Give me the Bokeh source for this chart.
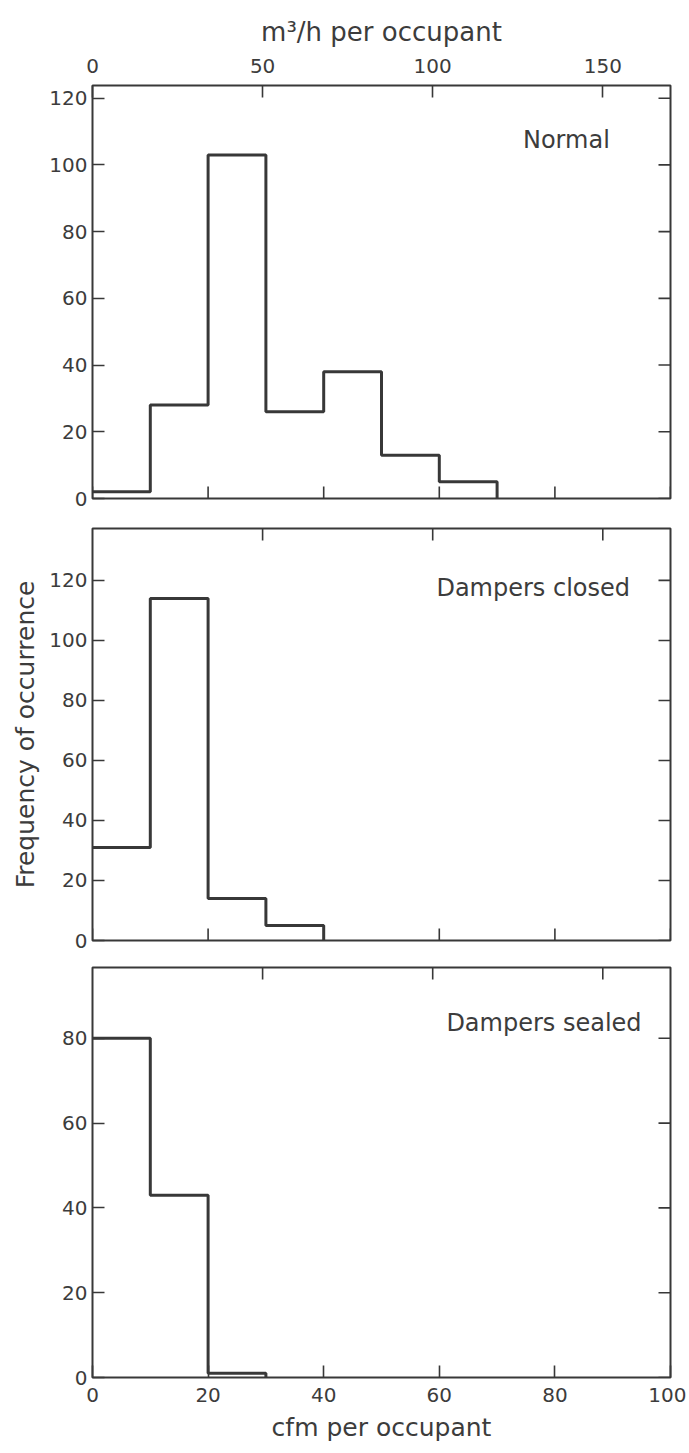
from bokeh.plotting import figure
from bokeh.models import Range1d, LinearAxis, FixedTicker, Label
from bokeh.layouts import column
from bokeh.embed import file_html
from bokeh.resources import INLINE

# ---------------- data ----------------
bin_edges_cfm = [0, 10, 20, 30, 40, 50, 60, 70, 80, 90, 100]
normal_counts = [2, 28, 103, 26, 38, 13, 5]
closed_counts = [31, 114, 14, 5]
sealed_counts = [80, 43, 1]

cfm_ticks = [0, 20, 40, 60, 80, 100]
m3h_ticks_labeled = [0, 50, 100, 150]
m3h_ticks_unlabeled = [50, 100, 150]
freq_ticks_120 = [0, 20, 40, 60, 80, 100, 120]
freq_ticks_80 = [0, 20, 40, 60, 80]

CFM_TO_M3H = 1.699

panel_titles = ["Normal", "Dampers closed", "Dampers sealed"]
x_title_bottom = "cfm per occupant"
x_title_top = "m\u00b3/h per occupant"
y_title = "Frequency of occurrence"

# ---------------- style ----------------
FONT = "DejaVu Sans"
LINE = "#383838"
TEXT = "#3c3c3c"
W = 686
TICK = 12


def style_axis(ax):
    ax.axis_line_color = None
    ax.major_tick_in = TICK
    ax.major_tick_out = 0
    ax.major_tick_line_color = LINE
    ax.major_tick_line_width = 1.6
    ax.minor_tick_line_color = None
    ax.major_label_text_font = FONT
    ax.major_label_text_color = TEXT
    ax.major_label_text_font_size = "20px"
    ax.axis_label_text_font = FONT
    ax.axis_label_text_color = TEXT
    ax.axis_label_text_font_style = "normal"
    ax.axis_label_text_font_size = "25px"


def tick_marks(p, xs, ys, angle, range_name=None):
    kw = {}
    if range_name:
        kw["x_range_name"] = range_name
    p.ray(x=xs, y=ys, length=TICK, length_units="screen", angle=angle, angle_units="deg",
          line_color=LINE, line_width=1.6, **kw)


def make_panel(counts, ymax, yticks, height, bl, br, bt, bb,
               top_labels, bottom_labels, ylabel, title, tx, ty):
    p = figure(width=W, height=height, output_backend="svg", toolbar_location=None,
               x_range=Range1d(0, 100), y_range=Range1d(0, ymax),
               x_axis_location=None, y_axis_location=None,
               min_border_left=bl, min_border_right=br,
               min_border_top=bt, min_border_bottom=bb)
    p.extra_x_ranges = {"m3h": Range1d(0, 100 * CFM_TO_M3H)}
    p.xgrid.grid_line_color = None
    p.ygrid.grid_line_color = None
    p.background_fill_color = "white"
    p.border_fill_color = "white"
    p.outline_line_color = LINE
    p.outline_line_width = 2

    # bottom (cfm)
    if bottom_labels:
        bax = LinearAxis(ticker=FixedTicker(ticks=cfm_ticks))
        style_axis(bax)
        bax.major_label_standoff = 10
        bax.axis_label = x_title_bottom
        bax.axis_label_standoff = 8
        p.add_layout(bax, "below")
    else:
        tick_marks(p, cfm_ticks, [0] * len(cfm_ticks), 90)

    # top (m3/h)
    if top_labels:
        tax = LinearAxis(x_range_name="m3h", ticker=FixedTicker(ticks=m3h_ticks_labeled))
        style_axis(tax)
        tax.major_label_standoff = 13
        tax.axis_label = x_title_top
        tax.axis_label_standoff = 9
        tax.axis_label_text_font_size = "26px"
        p.add_layout(tax, "above")
    else:
        tick_marks(p, m3h_ticks_unlabeled, [ymax] * len(m3h_ticks_unlabeled), -90, "m3h")

    # left axis
    lax = LinearAxis(ticker=FixedTicker(ticks=yticks))
    style_axis(lax)
    lax.major_label_standoff = 5
    if ylabel:
        lax.axis_label = y_title
        lax.axis_label_standoff = 6
    p.add_layout(lax, "left")

    # right ticks
    tick_marks(p, [100] * len(yticks), yticks, 180)

    edges = bin_edges_cfm[:len(counts) + 1]
    p.step(x=edges, y=list(counts) + [0], mode="after", line_color=LINE, line_width=3)

    p.add_layout(Label(x=tx, y=ty, text=title, text_align="right", text_baseline="alphabetic",
                       text_font=FONT, text_font_size="24px", text_color=TEXT))
    return p


p1 = make_panel(normal_counts, 123.8, freq_ticks_120, 513, 92, 8, 85, 15,
                True, False, False, panel_titles[0], 89.5, 107.5)
p2 = make_panel(closed_counts, 137.3, freq_ticks_120, 441, 90, 13, 15, 14,
                False, False, True, panel_titles[1], 93, 117.5)
p3 = make_panel(sealed_counts, 96.7, freq_ticks_80, 495, 89, 16, 13, 72,
                False, True, False, panel_titles[2], 95, 83.5)

layout = column(p1, p2, p3, spacing=0)
open("out.html", "w").write(file_html(layout, INLINE))
